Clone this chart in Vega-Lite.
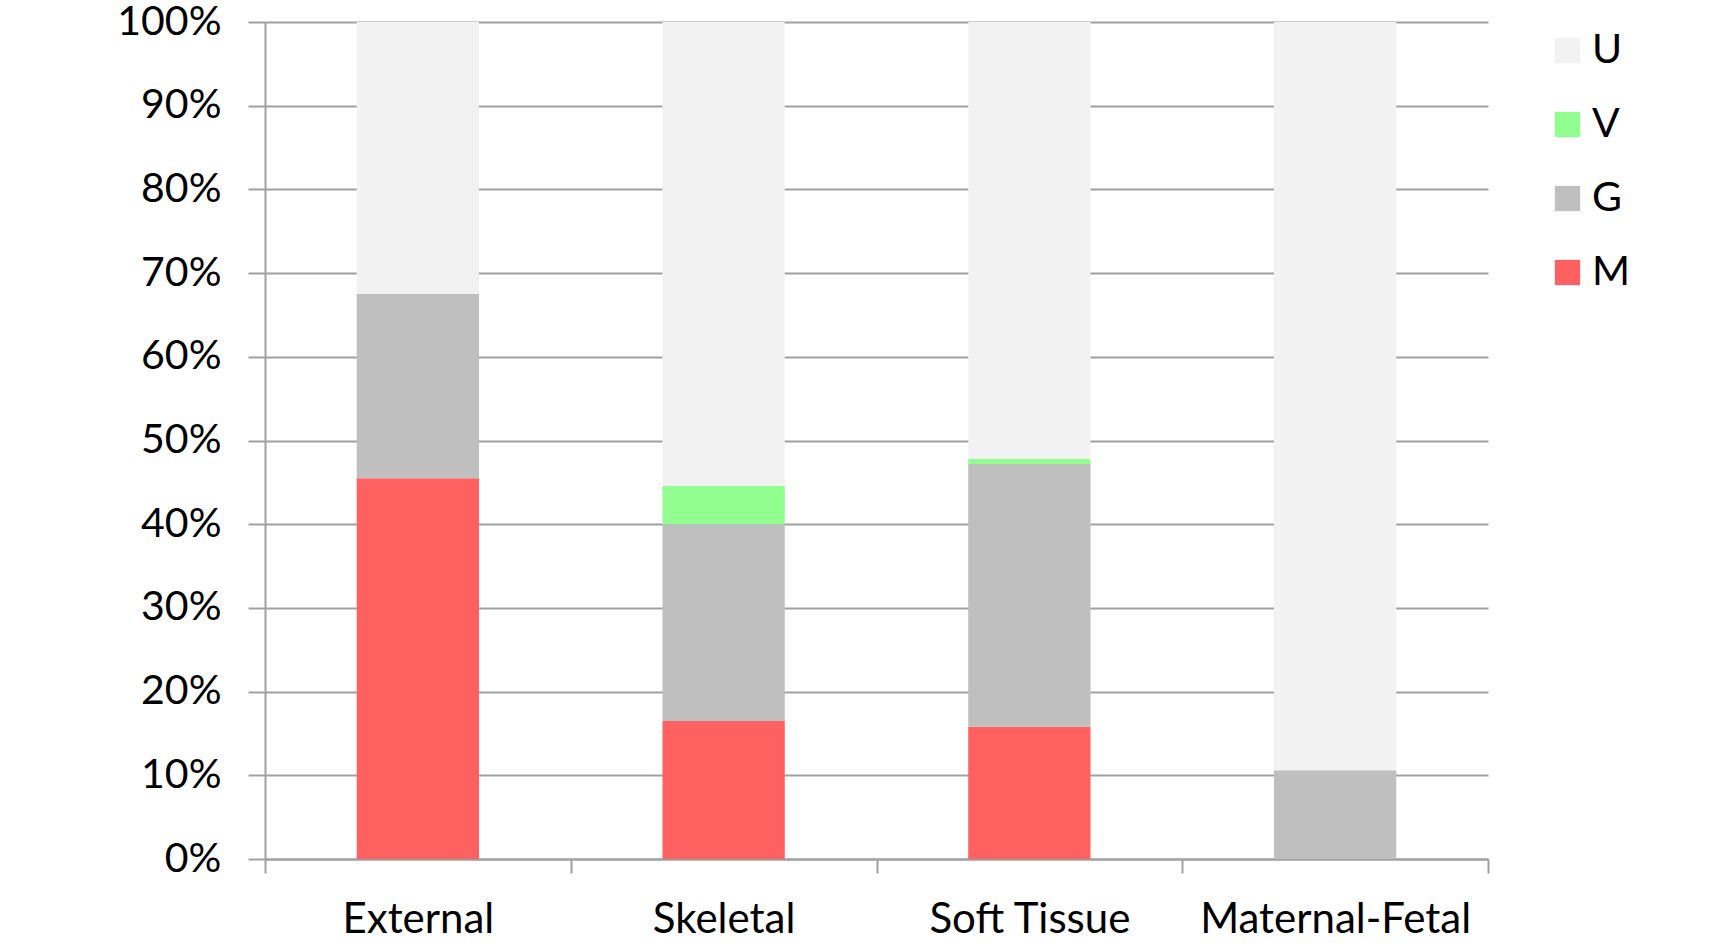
{
  "$schema": "https://vega.github.io/schema/vega-lite/v6.json",
  "width": 1223,
  "height": 837,
  "autosize": {"type": "none"},
  "padding": {"left": 265, "top": 22, "right": 243, "bottom": 84},
  "background": "white",
  "data": {
    "values": [
      {"category": "External", "group": "M", "value": 45.5},
      {"category": "External", "group": "G", "value": 22.0},
      {"category": "External", "group": "U", "value": 32.5},
      {"category": "Skeletal", "group": "M", "value": 16.5},
      {"category": "Skeletal", "group": "G", "value": 23.5},
      {"category": "Skeletal", "group": "V", "value": 4.6},
      {"category": "Skeletal", "group": "U", "value": 55.4},
      {"category": "Soft Tissue", "group": "M", "value": 15.8},
      {"category": "Soft Tissue", "group": "G", "value": 31.4},
      {"category": "Soft Tissue", "group": "V", "value": 0.6},
      {"category": "Soft Tissue", "group": "U", "value": 52.2},
      {"category": "Maternal-Fetal", "group": "G", "value": 10.6},
      {"category": "Maternal-Fetal", "group": "U", "value": 89.4}
    ]
  },
  "transform": [
    {"calculate": "indexof(['M','G','V','U'], datum.group)", "as": "stackOrder"}
  ],
  "mark": {"type": "bar", "strokeWidth": 0, "width": {"band": 0.4}},
  "encoding": {
    "x": {
      "field": "category",
      "type": "nominal",
      "sort": ["External", "Skeletal", "Soft Tissue", "Maternal-Fetal"],
      "scale": {"paddingInner": 0, "paddingOuter": 0},
      "axis": {
        "title": null,
        "labelAngle": 0,
        "labelLimit": 0,
        "tickBand": "extent",
        "tickSize": 14,
        "tickColor": "#a0a0a0",
        "tickWidth": 2,
        "domainColor": "#a0a0a0",
        "domainWidth": 2,
        "labelPadding": 26,
        "labelFont": "Lato",
        "labelFontSize": 42,
        "labelColor": "#000000",
        "grid": false
      }
    },
    "y": {
      "field": "value",
      "type": "quantitative",
      "stack": "zero",
      "scale": {"domain": [0, 100], "nice": false},
      "axis": {
        "title": null,
        "values": [0, 10, 20, 30, 40, 50, 60, 70, 80, 90, 100],
        "labelExpr": "datum.value + '%'",
        "labelLimit": 0,
        "tickSize": 17,
        "tickColor": "#a0a0a0",
        "tickWidth": 2,
        "domainColor": "#a0a0a0",
        "domainWidth": 2,
        "grid": true,
        "gridColor": "#a0a0a0",
        "gridWidth": 2,
        "labelPadding": 27,
        "labelFont": "Lato",
        "labelFontSize": 41,
        "labelColor": "#000000"
      }
    },
    "color": {
      "field": "group",
      "type": "nominal",
      "scale": {
        "domain": ["U", "V", "G", "M"],
        "range": ["#f2f2f2", "#90ff90", "#bfbfbf", "#ff6060"]
      },
      "legend": {
        "title": null,
        "orient": "none",
        "legendX": 1282,
        "legendY": 8,
        "padding": 0,
        "symbolType": "square",
        "symbolSize": 640,
        "symbolStrokeWidth": 0,
        "symbolOpacity": 1,
        "labelFont": "Lato",
        "labelFontSize": 41,
        "labelColor": "#000000",
        "labelOffset": 4,
        "rowPadding": 32
      }
    },
    "order": {"field": "stackOrder", "type": "quantitative", "sort": "ascending"}
  },
  "config": {"view": {"stroke": null}}
}
